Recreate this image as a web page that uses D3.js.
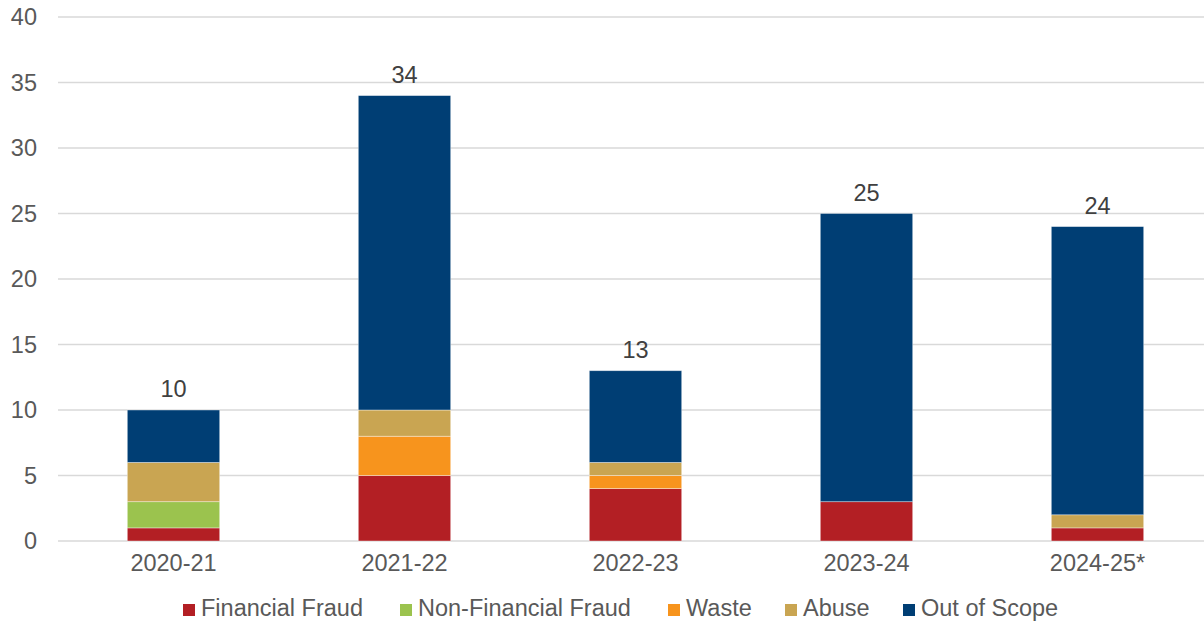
<!DOCTYPE html>
<html>
<head>
<meta charset="utf-8">
<script src="https://cdn.jsdelivr.net/npm/d3@7"></script>
<style>
  body { margin: 0; background: #fff; }
  text { font-family: "Liberation Sans", Arial, sans-serif; }
</style>
</head>
<body>
<div id="chart"></div>
<script>
var years = ["2020-21", "2021-22", "2022-23", "2023-24", "2024-25*"];
var seriesNames = ["Financial Fraud", "Non-Financial Fraud", "Waste", "Abuse", "Out of Scope"];
var seriesColors = ["#B31F24", "#9BC34E", "#F7941D", "#C9A552", "#003E74"];

var financialFraud = [1, 5, 4, 3, 1];
var nonFinancialFraud = [2, 0, 0, 0, 0];
var waste = [0, 3, 1, 0, 0];
var abuse = [3, 2, 1, 0, 1];
var outOfScope = [4, 24, 7, 22, 22];

var yTicks = [0, 5, 10, 15, 20, 25, 30, 35, 40];

var width = 1204, height = 622;
var margin = { top: 17, right: 0, bottom: 81, left: 58 };
var fontSize = 23.5;

// rows for the stack
var rows = years.map(function (y, i) {
    return {
        year: y,
        "Financial Fraud": financialFraud[i],
        "Non-Financial Fraud": nonFinancialFraud[i],
        "Waste": waste[i],
        "Abuse": abuse[i],
        "Out of Scope": outOfScope[i]
    };
});

var svg = d3.select("#chart")
    .append("svg")
    .attr("width", width)
    .attr("height", height);

var x = d3.scaleBand()
    .domain(years)
    .range([margin.left, margin.left + 5 * 231])
    .paddingInner(0.6)
    .paddingOuter(0.3);

var y = d3.scaleLinear()
    .domain([0, 40])
    .range([height - margin.bottom, margin.top]);

// grid
svg.append("g")
    .selectAll("line")
    .data(yTicks)
    .enter()
    .append("line")
    .attr("x1", margin.left)
    .attr("x2", width)
    .attr("y1", function (d) { return y(d); })
    .attr("y2", function (d) { return y(d); })
    .attr("stroke", "#d9d9d9")
    .attr("stroke-width", 1.5);

var styleText = function (g) {
    g.select(".domain").remove();
    g.selectAll("text")
        .attr("font-size", fontSize)
        .attr("fill", "#595959")
        .style("font-family", "Liberation Sans, Arial, sans-serif");
};

// y axis labels
svg.append("g")
    .attr("transform", "translate(37,0)")
    .call(d3.axisLeft(y).tickValues(yTicks).tickSize(0).tickPadding(0))
    .call(styleText);

// x axis labels
svg.append("g")
    .attr("transform", "translate(0," + (y(0) + 13) + ")")
    .call(d3.axisBottom(x).tickSize(0).tickPadding(0))
    .call(styleText);

var stacked = d3.stack().keys(seriesNames)(rows);

svg.append("g")
    .selectAll("g")
    .data(stacked)
    .enter()
    .append("g")
    .attr("fill", function (d, i) { return seriesColors[i]; })
    .selectAll("rect")
    .data(function (d) { return d; })
    .enter()
    .append("rect")
    .attr("x", function (d) { return x(d.data.year); })
    .attr("width", x.bandwidth())
    .attr("y", function (d) { return y(d[1]); })
    .attr("height", function (d) { return y(d[0]) - y(d[1]); })
    .attr("stroke", "#ffffff")
    .attr("stroke-opacity", 0.5)
    .attr("stroke-width", 0.75);

// totals
var total = function (d) {
    return d3.sum(seriesNames, function (k) { return d[k]; });
};

svg.append("g")
    .selectAll("text")
    .data(rows)
    .enter()
    .append("text")
    .attr("x", function (d) { return x(d.year) + x.bandwidth() / 2; })
    .attr("y", function (d) { return y(total(d)) - 13; })
    .attr("text-anchor", "middle")
    .attr("font-size", fontSize)
    .attr("fill", "#404040")
    .text(total);

// legend
var legendX = [183, 400, 668, 785, 903];
var legend = svg.append("g")
    .selectAll("g")
    .data(seriesNames)
    .enter()
    .append("g")
    .attr("transform", function (d, i) { return "translate(" + legendX[i] + ",604)"; });

legend.append("rect")
    .attr("width", 12)
    .attr("height", 12)
    .attr("fill", function (d, i) { return seriesColors[i]; });

legend.append("text")
    .attr("x", 18)
    .attr("y", 12)
    .attr("font-size", fontSize)
    .attr("fill", "#595959")
    .text(function (d) { return d; });
</script>
</body>
</html>
